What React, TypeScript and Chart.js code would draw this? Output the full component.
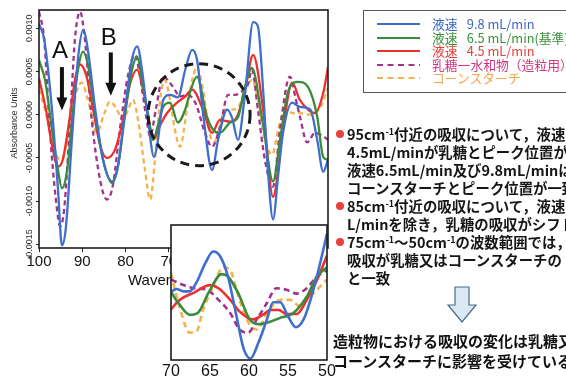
import React, { useEffect, useRef } from "react";
import { Chart, registerables } from "chart.js";
Chart.register(...registerables);

type P = [number, number];

// ---------- axes / ticks ----------
const mainXTicks = [100, 90, 80, 70, 60, 50, 40];
const mainYTicks = [0.001, 0.0005, 0, -0.0005, -0.001, -0.0015];
const insetXTicks = [70, 65, 60, 55, 50];

// ---------- series ----------
const seriesLabels = [
  "液速\u2002 9.8 mL/min",
  "液速\u2002 6.5 mL/min(基準)",
  "液速\u2002 4.5 mL/min",
  "乳糖一水和物（造粒用）",
  "コーンスターチ",
];
const lineColors = ["#3f6fcb", "#3a8c3a", "#ec2f2f", "#a2338d", "#f4b24c"];
const legendTextColors = ["#3a66c6", "#3b8f3b", "#e8403a", "#d2357f", "#f2a64a"];
const dashedSeries = [false, false, false, true, true];

// main spectrum: [wavenumber, absorbance]
const blueMain: P[] = [
  [100, 0.00105], [98.8, 0.00087], [97.0, 0.00006], [95.6, -0.00087], [94.7, -0.00151],
  [93.8, -0.00131], [92.4, -0.00029], [91.0, 0.00064], [89.8, 0.00098], [88.7, 0.00075],
  [87.0, 0.00006], [85.2, -0.00052], [83.1, -0.00077], [81.7, -0.00058], [80.1, 0.00006],
  [78.5, 0.00064], [77.3, 0.00079], [76.2, 0.00052], [74.8, -0.00006], [73.4, -0.00049],
  [72.5, -0.00029], [71.3, 0.00017], [69.7, 0.00023], [67.9, 0.0002], [66.2, 0.00052],
  [64.6, 0.00075], [63.5, 0.00064], [61.9, -0.00006], [60.0, -0.00064], [58.6, -0.00029],
  [56.5, 0.00006], [55.4, -0.00003], [54.0, -0.00029], [52.4, 0.00023], [50.5, 0.00107],
  [49.4, 0.00102], [48.2, 0.00029], [47.1, -0.00064], [45.9, -0.00121], [44.7, -0.00069],
  [43.6, -0.00021], [41.5, 0.00014], [39.7, 0.00009], [37.3, 0.00006], [35.7, -0.00029],
  [34.3, -0.00066], [33.2, -0.00052],
];
const greenMain: P[] = [
  [100, 0.00063], [98.6, 0.0004], [97.0, -0.00017], [95.6, -0.00064], [94.7, -0.00085],
  [93.5, -0.00064], [92.1, 0.00006], [91.0, 0.00052], [89.8, 0.00073], [88.7, 0.00058],
  [87.0, 0.0], [85.2, -0.00052], [83.1, -0.00079], [81.7, -0.00058], [80.1, 0.0],
  [78.5, 0.00052], [77.3, 0.00067], [76.2, 0.0004], [74.8, 0.0], [73.6, -0.00029],
  [72.5, -0.00012], [71.3, 0.00009], [69.7, 0.00014], [67.9, -0.00009], [66.2, 0.00006],
  [64.9, 0.00029], [63.5, 0.00044], [61.2, -0.00002], [59.8, -0.00017], [58.2, -0.00021],
  [55.8, -0.00009], [54.0, -0.00003], [52.4, 0.00032], [50.8, 0.00054], [48.2, -0.00012],
  [45.9, -0.00077], [44.3, -0.00029], [42.4, 0.00027], [40.1, 0.00038], [37.8, 0.00032],
  [35.7, -0.00002], [34.3, -0.00049], [33.2, -0.00052],
];
const redMain: P[] = [
  [100, 0.00042], [98.4, 0.00006], [97.0, -0.00035], [95.6, -0.0006], [94.5, -0.00052],
  [92.8, 0.0], [91.7, 0.0004], [90.5, 0.00058], [89.1, 0.00046], [87.5, 0.00006],
  [85.9, -0.00035], [84.3, -0.0005], [82.4, -0.0004], [80.6, -0.00006], [79.0, 0.00035],
  [77.3, 0.00052], [76.2, 0.00035], [74.8, 0.0], [73.6, -0.00029], [72.0, -0.00012],
  [70.4, 0.00002], [68.1, 0.00014], [66.2, 0.00021], [64.6, 0.00029], [62.1, 0.00006],
  [60.0, -0.00021], [58.2, -0.00006], [55.8, -0.00008], [54.2, -0.00002], [52.4, 0.00029],
  [50.5, 0.00069], [48.2, 0.00006], [45.9, -0.00095], [43.6, -0.00017], [41.5, 0.00037],
  [39.7, 0.00017], [37.8, 0.00006], [36.2, 0.00002], [34.3, 0.00025], [33.2, 0.00055],
];
const lactoseMain: P[] = [
  [100, 0.00119], [98.8, 0.00087], [97.5, -0.00017], [96.1, -0.00098], [95.1, -0.00129],
  [94.2, -0.0011], [92.8, -0.00006], [91.7, 0.00087], [90.5, 0.00119], [89.4, 0.00087],
  [87.8, -0.00006], [85.9, -0.00075], [84.3, -0.00098], [82.9, -0.00081], [81.3, -0.00017],
  [79.4, 0.00046], [77.8, 0.00069], [76.7, 0.00046], [75.3, 0.0], [74.3, -0.00025],
  [73.0, 0.00006], [71.3, 0.00044], [69.0, 0.00032], [67.4, 0.00021], [65.6, 0.00023],
  [63.7, 0.00012], [61.9, -0.00017], [60.0, -0.00037], [58.2, -0.00015], [56.3, 0.00023],
  [54.7, 0.00023], [53.1, 0.00027], [51.7, 0.00035], [50.8, 0.00052], [49.4, 0.00006],
  [47.8, -0.00052], [45.9, -0.00083], [44.3, -0.00017], [42.0, 0.00044], [40.6, 0.00017],
  [39.7, -0.00002], [38.0, -0.00032], [36.2, -0.00021], [34.3, -0.00025], [33.2, -0.00029],
];
const cornstarchMain: P[] = [
  [100, 0.00029], [98.6, 0.00006], [97.0, -0.00029], [95.6, -0.0005], [94.7, -0.00052],
  [93.5, -0.00029], [92.4, 0.0], [91.2, 0.00029], [90.1, 0.00037], [88.7, 0.00017],
  [86.6, -0.00021], [85.0, 0.0], [83.6, 0.00015], [82.2, 0.00008], [80.6, -0.00006],
  [79.4, 0.00006], [78.3, 0.00017], [77.1, -0.00006], [75.5, -0.00064], [74.3, -0.00098],
  [73.2, -0.00052], [72.0, 0.00017], [70.9, 0.0004], [69.7, 0.00017], [68.6, -0.00017],
  [67.4, -0.00037], [65.8, 0.00006], [64.6, 0.0004], [63.5, 0.00055], [62.1, 0.00029],
  [60.5, -0.00023], [59.5, -0.00032], [58.4, -0.00017], [57.0, 0.00006], [55.4, 0.00006],
  [54.0, 0.00008], [52.4, 0.00029], [50.8, 0.0004], [49.4, 0.00017], [47.8, -0.00029],
  [46.1, -0.00046], [44.7, -0.00017], [43.1, 0.00006], [41.3, 0.00002], [39.7, 0.00002],
  [38.0, 0.0], [36.2, 0.00002], [34.6, 0.00012], [33.2, 0.00031],
];

// inset (70–50 cm-1)
const blueInset: P[] = [
  [70, 0.00024], [69.3, 0.00028], [68.4, 0.00025], [67.6, 0.00025], [66.7, 0.00037],
  [65.6, 0.00061], [64.6, 0.00076], [63.7, 0.0007], [62.7, 0.00044], [61.6, -0.00007],
  [60.7, -0.00048], [59.8, -0.00061], [58.8, -0.00041], [57.7, -0.00011], [56.9, 0.00011],
  [56.0, 0.00011], [55.0, -0.00007], [54.0, -0.00021], [53.0, -0.00011], [52.0, 0.00018],
  [51.1, 0.00052], [50.0, 0.00099],
];
const greenInset: P[] = [
  [70, 0.00024], [68.9, 0.00008], [67.6, -0.00005], [66.5, -0.00002], [65.2, 0.00023],
  [63.5, 0.00047], [62.7, 0.00044], [61.4, 0.00023], [59.9, -0.00011], [58.6, -0.00017],
  [57.3, -0.00014], [56.0, -0.00009], [54.7, -0.00005], [53.9, 0.00001], [52.6, 0.00018],
  [51.3, 0.00044], [50.0, 0.00056],
];
const redInset: P[] = [
  [70, 0.00002], [68.9, 0.00014], [67.1, 0.00023], [65.0, 0.00033], [63.9, 0.00029],
  [62.4, 0.00014], [61.2, -0.00001], [59.5, -0.00011], [58.2, -0.00005], [57.3, 0.00001],
  [56.2, 0.00001], [55.2, -0.00004], [53.9, -0.00004], [52.6, 0.00014], [51.3, 0.00039],
  [50.0, 0.00071],
];
const lactoseInset: P[] = [
  [70, 0.0004], [68.4, 0.00033], [67.1, 0.00029], [65.4, 0.00027], [63.9, 0.00014],
  [62.4, -0.00003], [61.2, -0.00024], [60.1, -0.00028], [59.0, -0.00011], [57.7, 0.0001],
  [56.5, 0.00029], [55.2, 0.00027], [53.9, 0.00022], [52.6, 0.00029], [51.3, 0.00044],
  [50.0, 0.00052],
];
const cornstarchInset: P[] = [
  [70, 0.00048], [68.9, 0.00005], [67.6, -0.00028], [66.7, -0.00026], [65.9, 0.00001],
  [64.6, 0.00031], [63.3, 0.00056], [62.4, 0.00052], [61.4, 0.0002], [60.3, -0.00011],
  [59.0, -0.00024], [57.7, -0.00003], [56.0, 0.00014], [54.7, 0.00014], [53.5, 0.00006],
  [52.2, 0.00018], [50.9, 0.00031], [50.0, 0.0004],
];

// annotations (data coordinates)
const markerLabels = ["A", "B"];
const markerWavenumbers = [94.7, 83.4];
const markerLetterY = [0.00073, 0.00088];
const markerArrowTop = [0.00055, 0.00072];
const markerArrowTip = [0.00005, 0.00022];
const circleCenter: P = [63.0, 0.0];

const LAT = "'Liberation Sans', Arial, sans-serif";

function makeDatasets(series: P[][], width: number, dash: number[]) {
  return series.map((pts, i) => ({
    label: seriesLabels[i],
    data: pts.map(([x, y]) => ({ x, y })),
    borderColor: lineColors[i],
    backgroundColor: lineColors[i],
    borderWidth: width,
    borderDash: dashedSeries[i] ? dash : [],
    borderJoinStyle: "round" as const,
    pointRadius: 0,
    fill: false,
    cubicInterpolationMode: "monotone" as const,
  }));
}

const mainDecor = {
  id: "mainDecor",
  afterDraw(chart: any) {
    const { ctx, chartArea: a, scales } = chart;
    const x = scales.x;
    const y = scales.y;
    ctx.save();
    ctx.setLineDash([]);
    ctx.strokeStyle = "#1c1c1c";
    ctx.lineWidth = 1.6;
    ctx.strokeRect(a.left, a.top, a.right - a.left, a.bottom - a.top);

    // rotated y tick labels
    ctx.fillStyle = "#2a2a2a";
    ctx.font = `9px ${LAT}`;
    ctx.textAlign = "center";
    ctx.textBaseline = "middle";
    mainYTicks.forEach((v) => {
      const py = y.getPixelForValue(v);
      ctx.save();
      ctx.translate(a.left - 9, py);
      ctx.rotate(-Math.PI / 2);
      ctx.fillText(v.toFixed(4), 0, 0);
      ctx.restore();
    });
    // y title
    ctx.save();
    ctx.translate(15, (a.top + a.bottom) / 2 - 6);
    ctx.rotate(-Math.PI / 2);
    ctx.font = `9px ${LAT}`;
    ctx.fillText("Absorbance Units", 0, 0);
    ctx.restore();
    // x title
    ctx.font = `15px ${LAT}`;
    ctx.fillStyle = "#111";
    ctx.textAlign = "left";
    ctx.fillText("Wavenumber (cm-1)", 128, a.bottom + 33);

    // dashed circle
    ctx.setLineDash([9, 6]);
    ctx.lineWidth = 3;
    ctx.strokeStyle = "#1a1a1a";
    ctx.beginPath();
    ctx.arc(x.getPixelForValue(circleCenter[0]), y.getPixelForValue(circleCenter[1]), 51, 0, Math.PI * 2);
    ctx.stroke();
    ctx.setLineDash([]);

    // arrows and letters
    markerLabels.forEach((lab, i) => {
      const px = x.getPixelForValue(markerWavenumbers[i]);
      const top = y.getPixelForValue(markerArrowTop[i]);
      const tip = y.getPixelForValue(markerArrowTip[i]);
      ctx.strokeStyle = "#111";
      ctx.fillStyle = "#111";
      ctx.lineWidth = 4;
      ctx.beginPath();
      ctx.moveTo(px, top);
      ctx.lineTo(px, tip - 11);
      ctx.stroke();
      ctx.beginPath();
      ctx.moveTo(px - 5.5, tip - 13);
      ctx.lineTo(px + 5.5, tip - 13);
      ctx.lineTo(px, tip);
      ctx.closePath();
      ctx.fill();
      ctx.font = `24px ${LAT}`;
      ctx.textAlign = "center";
      ctx.textBaseline = "middle";
      ctx.fillText(lab, px - 2, y.getPixelForValue(markerLetterY[i]));
    });
    ctx.restore();
  },
};

const insetDecor = {
  id: "insetDecor",
  beforeDraw(chart: any) {
    const { ctx, chartArea: a } = chart;
    ctx.save();
    ctx.fillStyle = "#ffffff";
    ctx.fillRect(a.left, a.top, a.right - a.left, a.bottom - a.top);
    ctx.restore();
  },
  afterDraw(chart: any) {
    const { ctx, chartArea: a } = chart;
    ctx.save();
    ctx.strokeStyle = "#1c1c1c";
    ctx.lineWidth = 1.6;
    ctx.strokeRect(a.left, a.top, a.right - a.left, a.bottom - a.top);
    ctx.restore();
  },
};

const textLines: { bullet: boolean; parts: (string | { sup: string })[] }[] = [
  { bullet: true, parts: ["95cm", { sup: "-1" }, "付近の吸収について，液速"] },
  { bullet: false, parts: ["4.5mL/minが乳糖とピーク位置が"] },
  { bullet: false, parts: ["液速6.5mL/min及び9.8mL/minは"] },
  { bullet: false, parts: ["コーンスターチとピーク位置が一致"] },
  { bullet: true, parts: ["85cm", { sup: "-1" }, "付近の吸収について，液速"] },
  { bullet: false, parts: ["L/minを除き，乳糖の吸収がシフト"] },
  { bullet: true, parts: ["75cm", { sup: "-1" }, "～50cm", { sup: "-1" }, "の波数範囲では，"] },
  { bullet: false, parts: ["吸収が乳糖又はコーンスターチの"] },
  { bullet: false, parts: ["と一致"] },
];
const conclusionLines = ["造粒物における吸収の変化は乳糖又", "コーンスターチに影響を受けている"];

export default function App() {
  const mainRef = useRef<HTMLCanvasElement>(null);
  const insetRef = useRef<HTMLCanvasElement>(null);

  useEffect(() => {
    const main = new Chart(mainRef.current as HTMLCanvasElement, {
      type: "line",
      data: {
        datasets: makeDatasets(
          [blueMain, greenMain, redMain, lactoseMain, cornstarchMain],
          2.3,
          [5, 3.5]
        ) as any,
      },
      options: {
        animation: false,
        responsive: false,
        maintainAspectRatio: false,
        layout: { padding: { left: 0, top: 10, right: 238, bottom: 86 } },
        plugins: { legend: { display: false }, tooltip: { enabled: false } },
        scales: {
          x: {
            type: "linear",
            reverse: true,
            min: 33.2,
            max: 100,
            afterBuildTicks: (s: any) => {
              s.ticks = mainXTicks.map((v) => ({ value: v }));
            },
            afterFit: (s: any) => {
              s.height = 45;
            },
            border: { display: false },
            grid: { drawOnChartArea: false, drawTicks: true, tickLength: 4, color: "#222" },
            ticks: {
              autoSkip: false,
              maxRotation: 0,
              padding: 1,
              color: "#111",
              font: { family: LAT, size: 15 },
              callback: (v: any) => String(v),
            },
          },
          y: {
            type: "linear",
            min: -0.00154,
            max: 0.00121,
            afterBuildTicks: (s: any) => {
              s.ticks = mainYTicks.map((v) => ({ value: v }));
            },
            afterFit: (s: any) => {
              s.width = 39;
            },
            border: { display: false },
            grid: { drawOnChartArea: false, drawTicks: true, tickLength: 3, color: "#222" },
            ticks: { display: false },
          },
        },
      },
      plugins: [mainDecor],
    });

    const inset = new Chart(insetRef.current as HTMLCanvasElement, {
      type: "line",
      data: {
        datasets: makeDatasets(
          [blueInset, greenInset, redInset, lactoseInset, cornstarchInset],
          2.6,
          [6, 4]
        ) as any,
      },
      options: {
        animation: false,
        responsive: false,
        maintainAspectRatio: false,
        layout: { padding: { left: 21, top: 10, right: 23, bottom: 2 } },
        plugins: { legend: { display: false }, tooltip: { enabled: false } },
        scales: {
          x: {
            type: "linear",
            reverse: true,
            min: 50,
            max: 70,
            afterBuildTicks: (s: any) => {
              s.ticks = insetXTicks.map((v) => ({ value: v }));
            },
            afterFit: (s: any) => {
              s.height = 17;
            },
            border: { display: false },
            grid: { display: false, drawTicks: false },
            ticks: {
              autoSkip: false,
              maxRotation: 0,
              padding: 2,
              color: "#111",
              font: { family: LAT, size: 16 },
              callback: (v: any) => String(v),
            },
          },
          y: { type: "linear", display: false, min: -0.00063, max: 0.0011 },
        },
      },
      plugins: [insetDecor],
    });

    return () => {
      main.destroy();
      inset.destroy();
    };
  }, []);

  const jp = "'Noto Sans CJK JP', 'Noto Sans CJK SC', sans-serif";
  const legendRowY = [24, 37.5, 51, 64.5, 78];

  return (
    <div
      style={{
        position: "fixed",
        left: 0,
        top: 0,
        width: 566,
        height: 379,
        overflow: "hidden",
        background: "#fff",
      }}
    >
      <canvas
        ref={mainRef}
        width={566}
        height={379}
        style={{ position: "absolute", left: 0, top: 0, width: 566, height: 379 }}
      />
      <canvas
        ref={insetRef}
        width={200}
        height={164}
        style={{ position: "absolute", left: 150, top: 215, width: 200, height: 164 }}
      />

      {/* legend box */}
      <div
        style={{
          position: "absolute",
          left: 363,
          top: 10,
          width: 230,
          height: 83,
          border: "1px solid #555",
          boxSizing: "border-box",
        }}
      />
      {seriesLabels.map((lab, i) => (
        <React.Fragment key={lab}>
          <svg
            width={48}
            height={6}
            style={{ position: "absolute", left: 375, top: legendRowY[i] - 3 }}
          >
            <line
              x1={2}
              y1={3}
              x2={45}
              y2={3}
              stroke={lineColors[i]}
              strokeWidth={2}
              strokeDasharray={dashedSeries[i] ? "6 4.5" : undefined}
            />
          </svg>
          <div
            style={{
              position: "absolute",
              left: 432,
              top: legendRowY[i] - 9,
              height: 18,
              lineHeight: "18px",
              fontFamily: jp,
              fontSize: 12.8,
              color: legendTextColors[i],
              whiteSpace: "nowrap",
            }}
          >
            {lab}
          </div>
        </React.Fragment>
      ))}

      {/* explanation text */}
      <div
        style={{
          position: "absolute",
          left: 336,
          top: 125,
          fontFamily: jp,
          fontWeight: 700,
          fontSize: 14.4,
          lineHeight: "18px",
          color: "#161616",
          whiteSpace: "nowrap",
        }}
      >
        {textLines.map((ln, i) => (
          <div key={i} style={{ height: 18, position: "relative", paddingLeft: 11 }}>
            {ln.bullet && (
              <span
                style={{
                  position: "absolute",
                  left: 0,
                  top: 5,
                  width: 8,
                  height: 8,
                  borderRadius: 4,
                  background: "#e8413c",
                }}
              />
            )}
            {ln.parts.map((p, j) =>
              typeof p === "string" ? (
                <span key={j}>{p}</span>
              ) : (
                <span key={j} style={{ fontSize: 9, position: "relative", top: -5 }}>
                  {p.sup}
                </span>
              )
            )}
          </div>
        ))}
      </div>

      {/* down arrow */}
      <svg width={32} height={40} style={{ position: "absolute", left: 446, top: 285 }}>
        <path
          d="M9 2 H23 V20 H30 L16 37 L2 20 H9 Z"
          fill="#dbe8f6"
          stroke="#4d6a88"
          strokeWidth={1.2}
        />
      </svg>

      {/* conclusion */}
      <div
        style={{
          position: "absolute",
          left: 333,
          top: 331,
          fontFamily: jp,
          fontWeight: 700,
          fontSize: 15,
          lineHeight: "20px",
          color: "#111",
          whiteSpace: "nowrap",
        }}
      >
        {conclusionLines.map((t) => (
          <div key={t}>{t}</div>
        ))}
      </div>
    </div>
  );
}
